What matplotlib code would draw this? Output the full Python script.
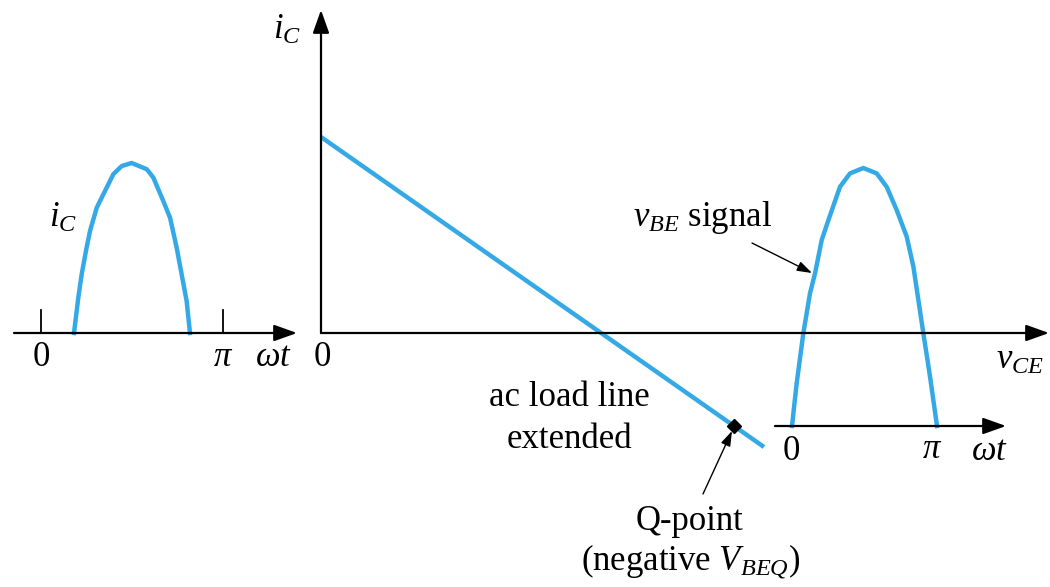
import matplotlib
matplotlib.use("Agg")
import matplotlib.pyplot as plt

plt.rcParams["mathtext.fontset"] = "custom"
plt.rcParams["mathtext.rm"] = "Liberation Serif"
plt.rcParams["mathtext.it"] = "Liberation Serif:italic"
plt.rcParams["font.family"] = ["Liberation Serif", "DejaVu Serif"]

# Collector-current pulse (left), one half cycle: phase fraction vs. relative amplitude
ic_phase = [0.0, 0.037, 0.066, 0.103, 0.138, 0.196, 0.253, 0.339, 0.411, 0.497,
            0.628, 0.684, 0.770, 0.828, 0.885, 0.928, 0.971, 1.0]
ic_amp = [0.0, 0.208, 0.345, 0.482, 0.600, 0.737, 0.816, 0.934, 0.982, 1.0,
          0.963, 0.914, 0.776, 0.678, 0.502, 0.345, 0.188, 0.0]

# Base-emitter signal pulse (right): phase fraction vs. relative amplitude
vbe_phase = [0.0, 0.032, 0.078, 0.124, 0.159, 0.205, 0.251, 0.331, 0.400, 0.492,
             0.584, 0.653, 0.722, 0.791, 0.837, 0.906, 0.952, 1.0]
vbe_amp = [0.0, 0.165, 0.359, 0.514, 0.592, 0.721, 0.798, 0.927, 0.979, 1.0,
           0.979, 0.927, 0.837, 0.734, 0.618, 0.359, 0.191, 0.0]

# ac load line (v_CE, i_C) end points and the Q-point, in diagram units
load_v = [0, 443]
load_i = [196, -114]
q_v, q_i = 413, -93

BLUE = "#35A9E6"
W, H = 1050, 587
fig = plt.figure(figsize=(W / 100, H / 100), dpi=100)
ax = fig.add_axes([0, 0, 1, 1])
ax.set_xlim(0, W)
ax.set_ylim(H, 0)
ax.axis("off")

# main origin in figure pixels
ox, oy = 321, 333


def arrow(x0, y0, x1, y1, lw=1.6, hl=1.4, hw=0.5):
    ax.annotate("", xy=(x1, y1), xytext=(x0, y0),
                arrowprops=dict(arrowstyle=f"-|>,head_length={hl},head_width={hw}",
                                color="black", lw=lw, shrinkA=0, shrinkB=0))


# main axes
arrow(ox, oy, ox, 10)
arrow(ox, oy, 1049, oy)

# left time axis with ticks
arrow(14, oy, 297, oy)
for tx in (41, 223):
    ax.plot([tx, tx], [310, oy], color="black", lw=1.3)

# right time axis
arrow(775, 426, 1006, 426)

# load line and Q-point
ax.plot([ox + v for v in load_v], [oy - i for i in load_i], color=BLUE, lw=3.2,
        solid_capstyle="butt")
ax.plot([ox + q_v], [oy - q_i], marker="D", color="black", ms=7)

# collector current pulse
x0, w, amp = 74, 116, 170
ax.plot([x0 + w * p for p in ic_phase], [oy - amp * a for a in ic_amp],
        color=BLUE, lw=3.2, solid_joinstyle="round")

# base-emitter signal pulse
x0, w, amp, base = 792, 145, 258, 426
ax.plot([x0 + w * p for p in vbe_phase], [base - amp * a for a in vbe_amp],
        color=BLUE, lw=3.2, solid_joinstyle="round")

fs = 25
# labels
ax.text(287, 30, r"$i_C$", fontsize=fs, ha="center", va="center")
ax.text(63, 218, r"$i_C$", fontsize=fs, ha="center", va="center")
ax.text(41, 358, "0", fontsize=fs, ha="center", va="center")
ax.text(223, 357, r"$\pi$", fontsize=fs, ha="center", va="center")
ax.text(273, 357, r"$\omega t$", fontsize=fs, ha="center", va="center")
ax.text(322, 357, "0", fontsize=fs, ha="center", va="center")
ax.text(1020, 360, r"$v_{CE}$", fontsize=fs, ha="center", va="center")
ax.text(791, 451, "0", fontsize=fs, ha="center", va="center")
ax.text(932, 450, r"$\pi$", fontsize=fs, ha="center", va="center")
ax.text(989, 452, r"$\omega t$", fontsize=fs, ha="center", va="center")

ax.text(703, 218, r"$v_{BE}$ signal", fontsize=fs, ha="center", va="center")
ax.annotate("", xy=(812, 273), xytext=(752, 243),
            arrowprops=dict(arrowstyle="-|>,head_length=0.9,head_width=0.3",
                            color="black", lw=1.0, shrinkA=0, shrinkB=0))

ax.text(569, 398, "ac load line", fontsize=fs, ha="center", va="center")
ax.text(569, 440, "extended", fontsize=fs, ha="center", va="center")

ax.annotate("", xy=(732, 431), xytext=(703, 494),
            arrowprops=dict(arrowstyle="-|>,head_length=0.9,head_width=0.3",
                            color="black", lw=1.0, shrinkA=0, shrinkB=0))
ax.text(690, 521, "Q-point", fontsize=fs, ha="center", va="center")
ax.text(691, 561, r"(negative $V_{BEQ}$)", fontsize=fs, ha="center", va="center")

fig.savefig("out.png", dpi=100)
